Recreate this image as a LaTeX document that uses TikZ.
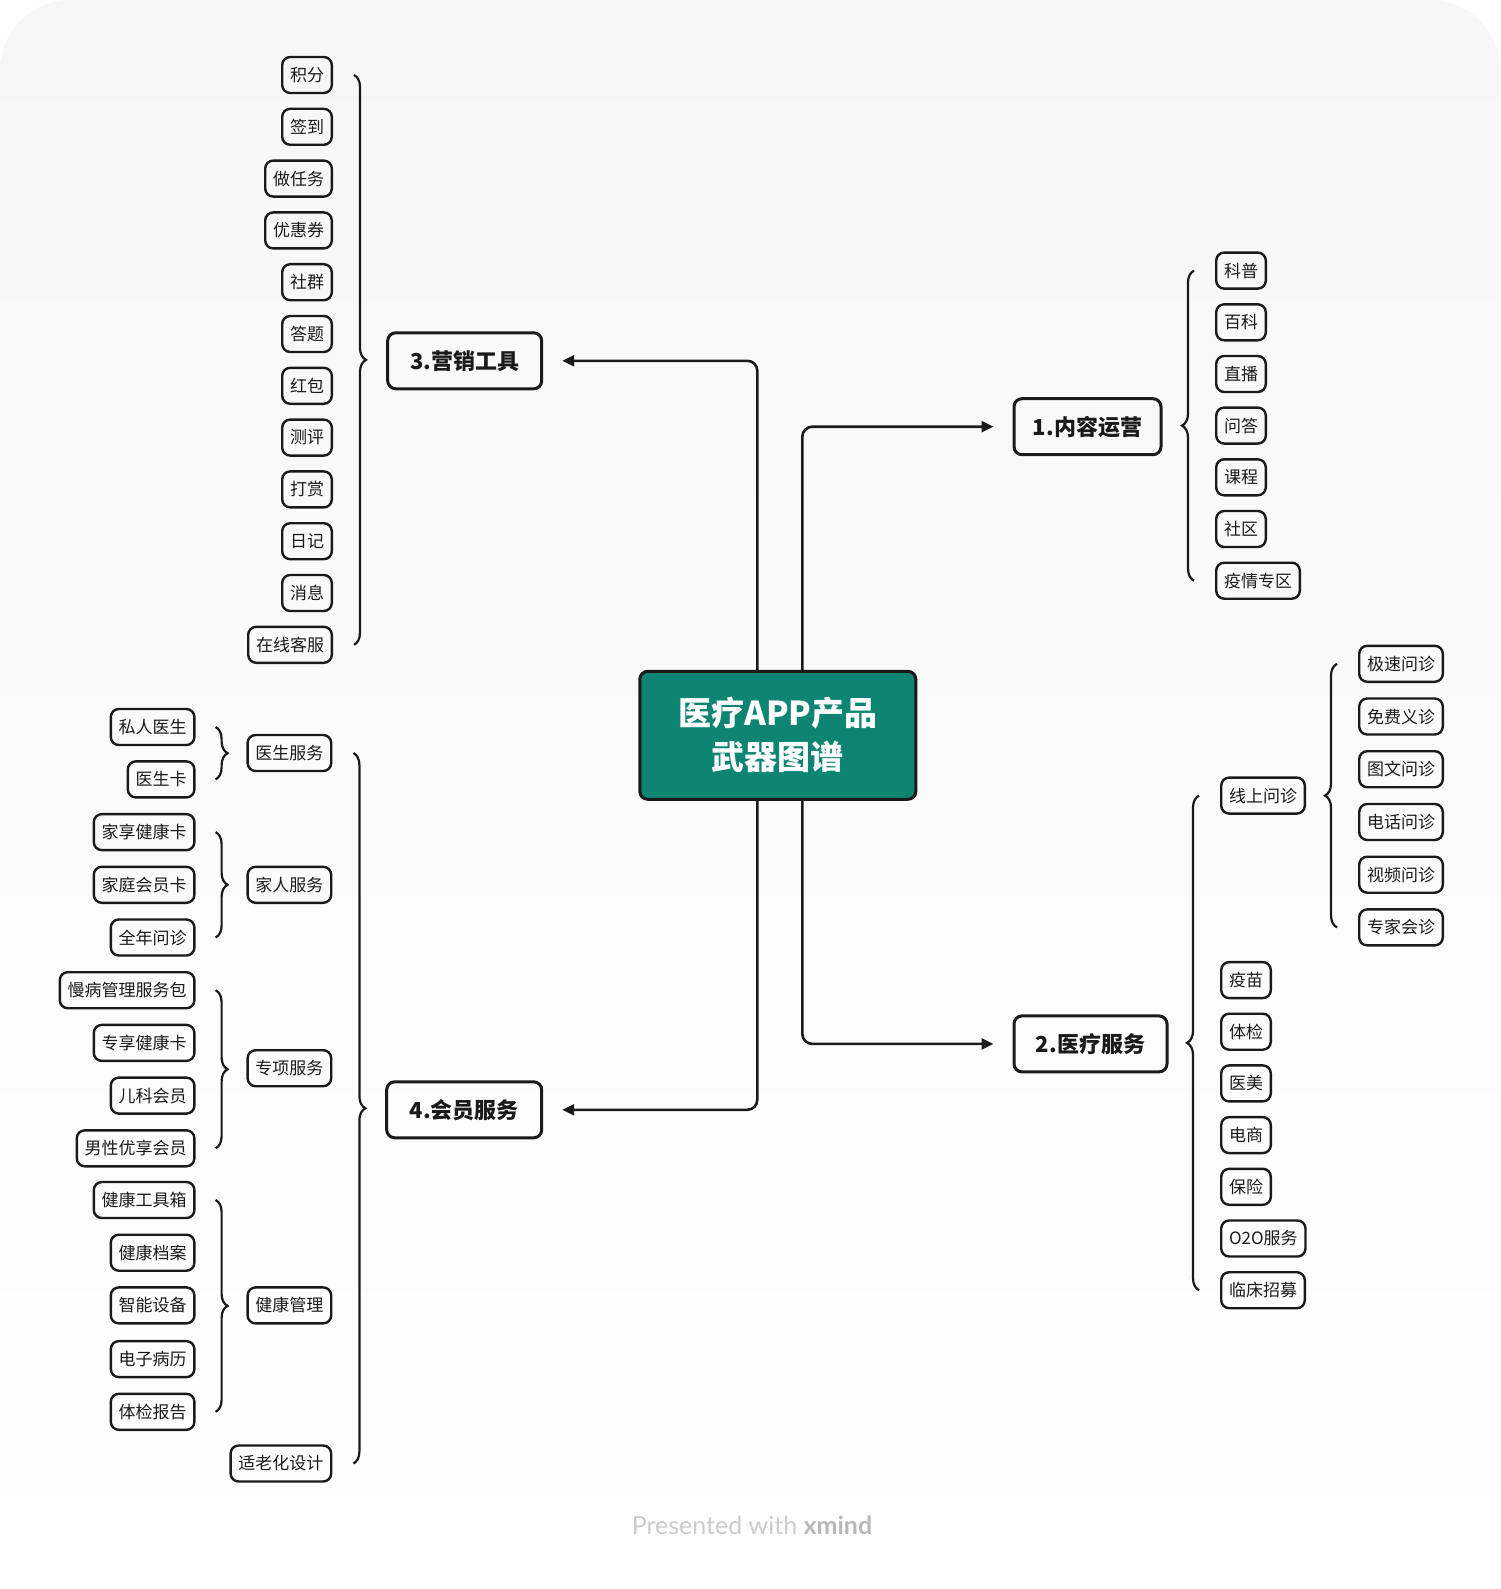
\documentclass[tikz,border=0pt]{standalone}
\usepackage{fontspec}
\setmainfont{Noto Sans CJK SC}
\newfontfamily\wmfont{Lato}
\usetikzlibrary{arrows.meta,decorations.pathreplacing,calc}
\definecolor{ink}{HTML}{1A1A1A}
\definecolor{tealfill}{HTML}{0E8573}
\definecolor{bgtop}{HTML}{F7F7F7}
\definecolor{wmlight}{HTML}{CCCCCC}
\definecolor{wmdark}{HTML}{B8B8B8}
\begin{document}
\begin{tikzpicture}[x=1pt,y=-1pt,
  leaf/.style={draw=ink, line width=2.4pt, rounded corners=8pt, minimum height=36pt,
    inner xsep=7.8pt, inner ysep=0pt, text=ink, font=\fontsize{17}{18}\selectfont},
  mainbox/.style={draw=ink, line width=3pt, rounded corners=8pt, minimum height=56pt,
    inner sep=0pt, text=ink, font=\bfseries\fontsize{22}{24}\selectfont},
  centerbox/.style={draw=ink, fill=tealfill, line width=3pt, rounded corners=8pt,
    minimum width=276pt, minimum height=128pt, align=center, text=white,
    font=\bfseries\fontsize{33}{44}\selectfont},
  conn/.style={draw=ink, line width=2.6pt, rounded corners=10pt,
    -{Triangle[length=12pt,width=11pt]}, shorten >=19pt},
  brc/.style={draw=ink, line width=2.2pt, decorate, decoration={brace, amplitude=12pt}}
]
\useasboundingbox (0,0) rectangle (1500,1589);
\fill[white] (0,0) rectangle (1500,1589);
\shade[top color=bgtop, bottom color=white, rounded corners=70pt] (0,0) rectangle (1500,1589);

% centre
\node[centerbox] (c) at (777.8,735.3) {医疗APP产品\\武器图谱};

% main branches
\node[mainbox, minimum width=154pt] (n3) at (464.7,360.8) {3.营销工具};
\node[mainbox, minimum width=147pt] (n1) at (1087.5,426.7) {1.内容运营};
\node[mainbox, minimum width=153pt] (n2) at (1090.5,1043.9) {2.医疗服务};
\node[mainbox, minimum width=155pt] (n4) at (464.2,1109.8) {4.会员服务};

\draw[conn] ([xshift=-20.5pt]c.north) |- (n3.east);
\draw[conn] ([xshift=24.5pt]c.north) |- (n1.west);
\draw[conn] ([xshift=24.5pt]c.south) |- (n2.west);
\draw[conn] ([xshift=-20.5pt]c.south) |- (n4.east);

% group 3
\node[leaf,anchor=east] (m1) at (333,75) {积分};
\node[leaf,anchor=east] (m2) at (333,126.8) {签到};
\node[leaf,anchor=east] (m3) at (333,178.6) {做任务};
\node[leaf,anchor=east] (m4) at (333,230.4) {优惠券};
\node[leaf,anchor=east] (m5) at (333,282.2) {社群};
\node[leaf,anchor=east] (m6) at (333,334) {答题};
\node[leaf,anchor=east] (m7) at (333,385.8) {红包};
\node[leaf,anchor=east] (m8) at (333,437.6) {测评};
\node[leaf,anchor=east] (m9) at (333,489.4) {打赏};
\node[leaf,anchor=east] (m10) at (333,541.2) {日记};
\node[leaf,anchor=east] (m11) at (333,593) {消息};
\node[leaf,anchor=east] (m12) at (333,644.8) {在线客服};
\draw[brc] ([xshift=21pt]m1.east) -- ([xshift=21pt]m12.east);

% group 1
\node[leaf,anchor=west] (k1) at (1215,270.6) {科普};
\node[leaf,anchor=west] (k2) at (1215,322.3) {百科};
\node[leaf,anchor=west] (k3) at (1215,374.0) {直播};
\node[leaf,anchor=west] (k4) at (1215,425.6) {问答};
\node[leaf,anchor=west] (k5) at (1215,477.3) {课程};
\node[leaf,anchor=west] (k6) at (1215,529.0) {社区};
\node[leaf,anchor=west] (k7) at (1215,580.7) {疫情专区};
\draw[brc] ([xshift=-21pt]k7.west) -- ([xshift=-21pt]k1.west);

% group 2
\node[leaf,anchor=west] (y1) at (1220,795.6) {线上问诊};
\node[leaf,anchor=west] (y2) at (1220,980.1) {疫苗};
\node[leaf,anchor=west] (y3) at (1220,1031.7) {体检};
\node[leaf,anchor=west] (y4) at (1220,1083.4) {医美};
\node[leaf,anchor=west] (y5) at (1220,1135.1) {电商};
\node[leaf,anchor=west] (y6) at (1220,1186.8) {保险};
\node[leaf,anchor=west] (y7) at (1220,1238.5) {O2O服务};
\node[leaf,anchor=west] (y8) at (1220,1290.2) {临床招募};
\draw[brc] ([xshift=-21pt]y8.west) -- ([xshift=-21pt]y1.west);

\node[leaf,anchor=west] (w1) at (1358,663.8) {极速问诊};
\node[leaf,anchor=west] (w2) at (1358,716.5) {免费义诊};
\node[leaf,anchor=west] (w3) at (1358,769.2) {图文问诊};
\node[leaf,anchor=west] (w4) at (1358,822.0) {电话问诊};
\node[leaf,anchor=west] (w5) at (1358,874.7) {视频问诊};
\node[leaf,anchor=west] (w6) at (1358,927.4) {专家会诊};
\draw[brc] ([xshift=-21pt]w6.west) -- ([xshift=-21pt]w1.west);

% group 4
\node[leaf,anchor=east] (h1) at (332.4,753) {医生服务};
\node[leaf,anchor=east] (h2) at (332.4,884.8) {家人服务};
\node[leaf,anchor=east] (h3) at (332.4,1068.2) {专项服务};
\node[leaf,anchor=east] (h4) at (332.4,1305.4) {健康管理};
\node[leaf,anchor=east] (h5) at (332.4,1463.5) {适老化设计};
\draw[brc] ([xshift=21pt]h1.east) -- ([xshift=21pt]h5.east);

\node[leaf,anchor=east] (a1) at (195.6,727) {私人医生};
\node[leaf,anchor=east] (a2) at (195.6,779.4) {医生卡};
\draw[brc] ([xshift=20pt]a1.east) -- ([xshift=20pt]a2.east);

\node[leaf,anchor=east] (b1) at (195.6,832.1) {家享健康卡};
\node[leaf,anchor=east] (b2) at (195.6,884.8) {家庭会员卡};
\node[leaf,anchor=east] (b3) at (195.6,937.5) {全年问诊};
\draw[brc] ([xshift=20pt]b1.east) -- ([xshift=20pt]b3.east);

\node[leaf,anchor=east] (d1) at (195.6,990.2) {慢病管理服务包};
\node[leaf,anchor=east] (d2) at (195.6,1042.9) {专享健康卡};
\node[leaf,anchor=east] (d3) at (195.6,1095.6) {儿科会员};
\node[leaf,anchor=east] (d4) at (195.6,1148.3) {男性优享会员};
\draw[brc] ([xshift=20pt]d1.east) -- ([xshift=20pt]d4.east);

\node[leaf,anchor=east] (e1) at (195.6,1200.0) {健康工具箱};
\node[leaf,anchor=east] (e2) at (195.6,1252.7) {健康档案};
\node[leaf,anchor=east] (e3) at (195.6,1305.4) {智能设备};
\node[leaf,anchor=east] (e4) at (195.6,1359.1) {电子病历};
\node[leaf,anchor=east] (e5) at (195.6,1411.8) {体检报告};
\draw[brc] ([xshift=20pt]e1.east) -- ([xshift=20pt]e5.east);

% watermark
\node[font=\wmfont\fontsize{25}{27}\selectfont, text=wmlight, inner sep=0pt] (wm) at (752,1525)
  {Presented with \textcolor{wmdark}{\bfseries xmind}};
\end{tikzpicture}
\end{document}
